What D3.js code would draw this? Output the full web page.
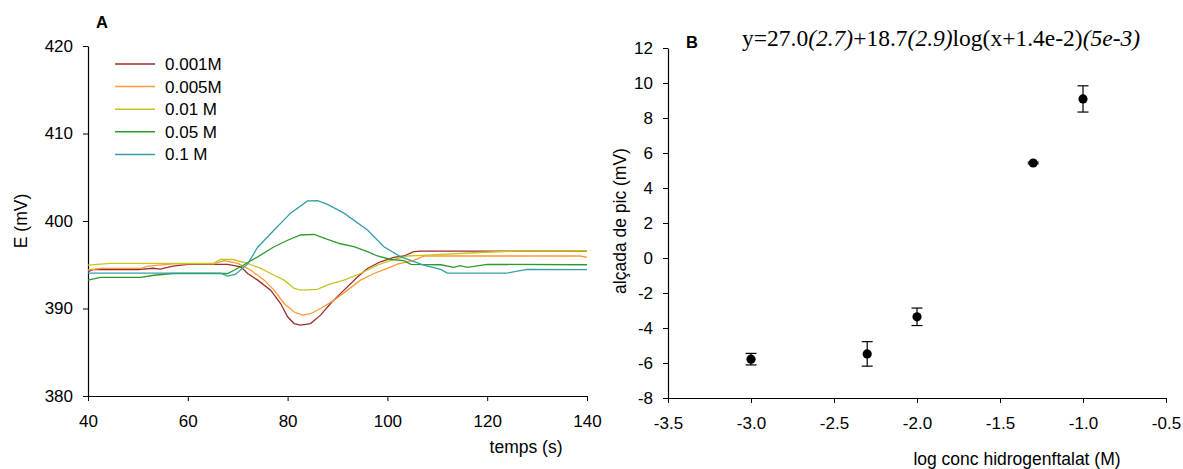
<!DOCTYPE html>
<html>
<head>
<meta charset="utf-8">
<script src="https://cdn.jsdelivr.net/npm/d3@7"></script>
<style>
  body { margin: 0; background: #fff; }
  svg { display: block; }
  text { font-family: "Liberation Sans", Arial, sans-serif; fill: #000; }
</style>
</head>
<body>
<svg id="chart" width="1183" height="469"></svg>
<script>
// ---------- Panel A data: E (mV) vs temps (s) ----------
const seriesNames = ["0.001M", "0.005M", "0.01 M", "0.05 M", "0.1 M"];
const seriesColors = ["#9b2d30", "#ff9933", "#c8c41e", "#2e9a2e", "#34a0a4"];

const s0001 = [[40,394.2],[41,394.45],[50,394.45],[53,394.6],[54.5,394.5],[57,394.85],[60,395.04],[68,395.04],[70.6,394.77],[72,394.0],[74,393.24],[76.6,392.1],[78.6,390.57],[80,389.05],[81.3,388.28],[82.6,388.1],[84.6,388.28],[86.6,389.24],[88.6,390.57],[91.3,392.1],[94,393.6],[96,394.58],[98.6,395.34],[101.3,395.84],[103.3,396.0],[105.3,396.5],[106.7,396.56],[140,396.56]];
const s0005 = [[40,394.4],[42.5,394.58],[50.6,394.58],[52,394.85],[57,395.1],[65.2,395.1],[67.3,395.46],[70,395.15],[72.6,394.4],[75.3,393.24],[77.3,392.1],[79.3,390.57],[81.3,389.6],[83,389.24],[84.6,389.4],[86.6,390.0],[89.3,390.95],[92,392.1],[94.6,393.24],[97.3,394.0],[100,394.58],[102,395.07],[105.3,395.5],[107.3,396.0],[138.7,396.0],[140,395.84]];
const s001 = [[40,394.96],[44.5,395.15],[65.2,395.15],[66.6,395.6],[69,395.6],[72,395.15],[74.6,394.58],[77.3,393.8],[79.3,393.24],[81.3,392.3],[82.6,392.1],[86,392.18],[88,392.7],[91.3,393.24],[94.6,394.0],[98,394.96],[100.7,395.5],[104,396.0],[108,396.1],[117.4,396.37],[125.4,396.56],[140,396.6]];
const s005 = [[40,393.24],[42.5,393.55],[50.6,393.55],[53.2,393.8],[57,394.0],[68,394.0],[70.6,394.77],[74,395.9],[77.3,397.06],[80,397.8],[82.6,398.4],[85.3,398.47],[88,397.9],[90.6,397.4],[93.3,397.06],[96,396.5],[98,396.0],[100.7,395.6],[103.3,395.46],[104.7,395.04],[110.7,395.0],[113.3,394.7],[114.6,394.9],[116,394.7],[120,395.04],[140,395.0]];
const s01 = [[40,394.05],[66.6,394.05],[67.9,393.7],[69.5,393.9],[72,395.1],[74,397.0],[77.3,398.97],[80.6,400.9],[84,402.3],[86,402.33],[88,401.9],[91.3,400.9],[96,398.97],[99.3,397.06],[102.7,395.9],[107.3,394.96],[110.7,394.47],[112,394.05],[124,394.05],[128,394.47],[140,394.45]];
const seriesA = [s0001, s0005, s001, s005, s01];

const ticksAx = [40, 60, 80, 100, 120, 140];
const ticksAy = [380, 390, 400, 410, 420];

// ---------- Panel B data: peak height vs log conc ----------
const logConc = [-3.0, -2.3, -2.0, -1.3, -1.0];
const peakHeight = [-5.78, -5.48, -3.36, 5.43, 9.09];
const peakErr = [0.33, 0.7, 0.5, 0.05, 0.75];

const ticksBx = [-3.5, -3.0, -2.5, -2.0, -1.5, -1.0, -0.5];
const ticksBy = [-8, -6, -4, -2, 0, 2, 4, 6, 8, 10, 12];

const svg = d3.select("#chart");

function styleAxis(g) {
  g.selectAll("path.domain").attr("stroke", "#000").attr("stroke-width", 1.2);
  g.selectAll(".tick line").attr("stroke", "#000").attr("stroke-width", 1);
  g.selectAll(".tick text").attr("font-size", 17).attr("font-family", "Liberation Sans, Arial, sans-serif").attr("fill", "#000");
}

// ---------- Panel A ----------
const xA = d3.scaleLinear().domain([40, 140]).range([88, 587]);
const yA = d3.scaleLinear().domain([380, 420]).range([396, 46]);

const gA = svg.append("g");
gA.append("g").attr("transform", `translate(0,${yA(380)})`)
  .call(d3.axisBottom(xA).tickValues(ticksAx).tickSize(5).tickSizeOuter(0).tickPadding(14).tickFormat(d => String(d)))
  .call(styleAxis);
gA.append("g").attr("transform", `translate(${xA(40)},0)`)
  .call(d3.axisLeft(yA).tickValues(ticksAy).tickSize(5).tickSizeOuter(0).tickPadding(10).tickFormat(d => String(d)))
  .call(styleAxis);

const lineA = d3.line().x(d => xA(d[0])).y(d => yA(d[1]));
seriesA.forEach((s, i) => {
  gA.append("path").datum(s)
    .attr("fill", "none").attr("stroke", seriesColors[i]).attr("stroke-width", 1.3)
    .attr("d", lineA);
});

// legend
const legend = gA.append("g");
seriesNames.forEach((n, i) => {
  const y = 64 + i * 22.6;
  legend.append("line").attr("x1", 115).attr("x2", 155).attr("y1", y).attr("y2", y)
    .attr("stroke", seriesColors[i]).attr("stroke-width", 1.5);
  legend.append("text").attr("x", 165).attr("y", y + 6).attr("font-size", 17).text(n);
});

gA.append("text").attr("x", 96).attr("y", 28).attr("font-size", 16.5).attr("font-weight", "bold").text("A");
gA.append("text").attr("transform", "translate(27,221) rotate(-90)").attr("text-anchor", "middle")
  .attr("font-size", 17.5).text("E (mV)");
gA.append("text").attr("x", 526).attr("y", 453).attr("text-anchor", "middle").attr("font-size", 17.5).text("temps (s)");

// ---------- Panel B ----------
const xB = d3.scaleLinear().domain([-3.5, -0.5]).range([668, 1166]);
const yB = d3.scaleLinear().domain([-8, 12]).range([398, 48]);

const gB = svg.append("g");
gB.append("g").attr("transform", `translate(0,${yB(-8)})`)
  .call(d3.axisBottom(xB).tickValues(ticksBx).tickSize(5).tickSizeOuter(0).tickPadding(14).tickFormat(d => d.toFixed(1)))
  .call(styleAxis);
gB.append("g").attr("transform", `translate(${xB(-3.5)},0)`)
  .call(d3.axisLeft(yB).tickValues(ticksBy).tickSize(5).tickSizeOuter(0).tickPadding(10).tickFormat(d => String(d)))
  .call(styleAxis);

const pts = logConc.map((x, i) => ({ x, y: peakHeight[i], e: peakErr[i] }));
const eb = gB.append("g").selectAll("g").data(pts).join("g");
eb.append("line").attr("x1", d => xB(d.x)).attr("x2", d => xB(d.x))
  .attr("y1", d => yB(d.y + d.e)).attr("y2", d => yB(d.y - d.e)).attr("stroke", "#000").attr("stroke-width", 1.2);
eb.append("line").attr("x1", d => xB(d.x) - 5.5).attr("x2", d => xB(d.x) + 5.5)
  .attr("y1", d => yB(d.y + d.e)).attr("y2", d => yB(d.y + d.e)).attr("stroke", "#000").attr("stroke-width", 1.2);
eb.append("line").attr("x1", d => xB(d.x) - 5.5).attr("x2", d => xB(d.x) + 5.5)
  .attr("y1", d => yB(d.y - d.e)).attr("y2", d => yB(d.y - d.e)).attr("stroke", "#000").attr("stroke-width", 1.2);
eb.append("circle").attr("cx", d => xB(d.x)).attr("cy", d => yB(d.y)).attr("r", 4.6).attr("fill", "#000");

gB.append("text").attr("x", 686).attr("y", 48).attr("font-size", 16.5).attr("font-weight", "bold").text("B");
const f = gB.append("text").attr("x", 742).attr("y", 46)
  .style("font-family", "'Liberation Serif', 'Times New Roman', serif").attr("font-size", 23.5);
[["y=27.0", false], ["(2.7)", true], ["+18.7", false], ["(2.9)", true], ["log(x+1.4e-2)", false], ["(5e-3)", true]]
  .forEach(([t, it]) => f.append("tspan").attr("font-style", it ? "italic" : "normal")
    .style("font-family", "'Liberation Serif', 'Times New Roman', serif").text(t));

gB.append("text").attr("transform", "translate(626,221) rotate(-90)").attr("text-anchor", "middle")
  .attr("font-size", 17.5).text("alçada de pic (mV)");
gB.append("text").attr("x", 1017).attr("y", 465).attr("text-anchor", "middle").attr("font-size", 17.5)
  .text("log conc hidrogenftalat (M)");
</script>
</body>
</html>
